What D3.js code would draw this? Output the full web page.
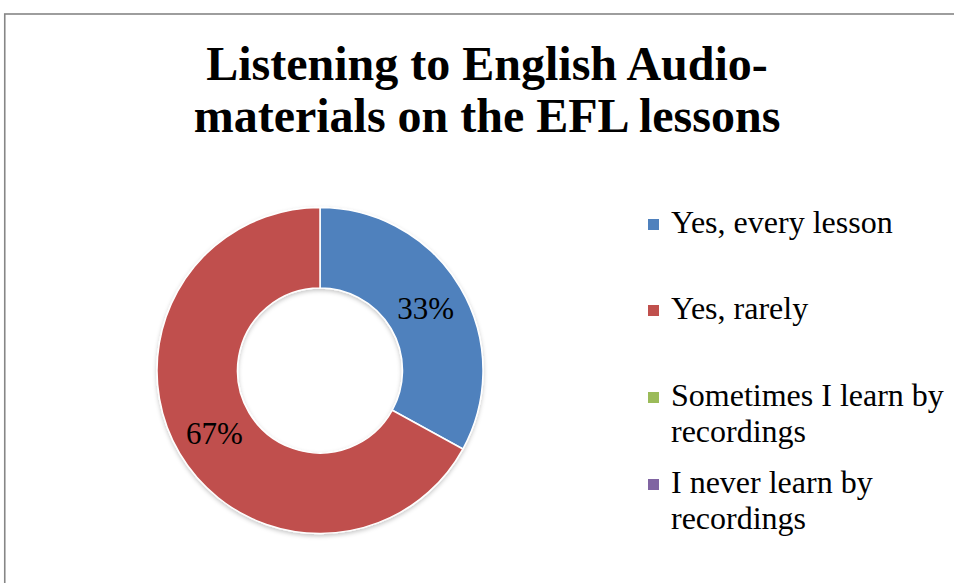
<!DOCTYPE html>
<html>
<head>
<meta charset="utf-8">
<script src="https://cdn.jsdelivr.net/npm/d3@7"></script>
<style>
  html, body { margin: 0; padding: 0; background: #fff; }
  svg { display: block; }
</style>
</head>
<body>
<svg id="chart" width="954" height="583"></svg>
<script>
// Survey answers and their shares (percent)
const categories = ["Yes, every lesson", "Yes, rarely", "Sometimes I learn by recordings", "I never learn by recordings"];
const values = [33, 67, 0, 0];
const colors = ["#4F81BD", "#C0504D", "#9BBB59", "#8064A2"];
// Legend text split into display lines
const legendLines = [["Yes, every lesson"], ["Yes, rarely"], ["Sometimes I learn by", "recordings"], ["I never learn by", "recordings"]];
const titleLines = ["Listening to English Audio-", "materials on the EFL lessons"];

const svg = d3.select("#chart");
const serif = "'Liberation Serif', 'Times New Roman', serif";

// Chart frame
svg.append("rect")
  .attr("x", 4.75).attr("y", 14)
  .attr("width", 1200).attr("height", 1200)
  .attr("fill", "#fff")
  .attr("stroke", "#868686")
  .attr("stroke-width", 1.6);

// Title
svg.append("text")
  .attr("font-family", serif)
  .attr("font-weight", "bold")
  .attr("font-size", 48)
  .attr("text-anchor", "middle")
  .selectAll("tspan")
  .data(titleLines)
  .join("tspan")
  .attr("x", 487)
  .attr("y", (d, i) => 79.5 + i * 52.5)
  .text(d => d);

// Soft shadow under the ring
const defs = svg.append("defs");
const f = defs.append("filter").attr("id", "shadow")
  .attr("x", "-20%").attr("y", "-20%").attr("width", "140%").attr("height", "140%");
f.append("feDropShadow")
  .attr("dx", 0).attr("dy", 2).attr("stdDeviation", 2.2)
  .attr("flood-color", "#000").attr("flood-opacity", 0.22);

const cx = 320, cy = 370.5, rOuter = 163, rInner = 82.5;

const pie = d3.pie().sort(null).value(d => d.value);
const arcs = pie(categories.map((c, i) => ({ cat: c, value: values[i], color: colors[i] })));
const arc = d3.arc().innerRadius(rInner).outerRadius(rOuter);
const labelArc = d3.arc().innerRadius((rInner + rOuter) / 2).outerRadius((rInner + rOuter) / 2);

const g = svg.append("g").attr("transform", `translate(${cx},${cy})`);
g.append("g").attr("filter", "url(#shadow)")
  .selectAll("path")
  .data(arcs.filter(d => d.value > 0))
  .join("path")
  .attr("d", arc)
  .attr("fill", d => d.data.color)
  .attr("stroke", "#fff")
  .attr("stroke-width", 1.5)
  .attr("stroke-linejoin", "round");

// Percentage labels at the middle of each segment
g.selectAll("text.pct")
  .data(arcs.filter(d => d.value > 0))
  .join("text")
  .attr("class", "pct")
  .attr("transform", d => `translate(${labelArc.centroid(d)})`)
  .attr("text-anchor", "middle")
  .attr("dy", "0.35em")
  .attr("font-family", serif)
  .attr("font-size", 31)
  .attr("fill", "#000")
  .text(d => d.data.value + "%");

// Legend
const legendTop = [233, 319, 406, 493];
const legend = svg.append("g");
categories.forEach((c, i) => {
  const item = legend.append("g");
  item.append("rect")
    .attr("x", 648).attr("y", legendTop[i] - 14)
    .attr("width", 11).attr("height", 11)
    .attr("fill", colors[i]);
  const t = item.append("text")
    .attr("font-family", serif)
    .attr("font-size", 32)
    .attr("fill", "#000");
  legendLines[i].forEach((line, j) => {
    t.append("tspan")
      .attr("x", 671)
      .attr("y", legendTop[i] + j * 36)
      .text(line);
  });
});
</script>
</body>
</html>
